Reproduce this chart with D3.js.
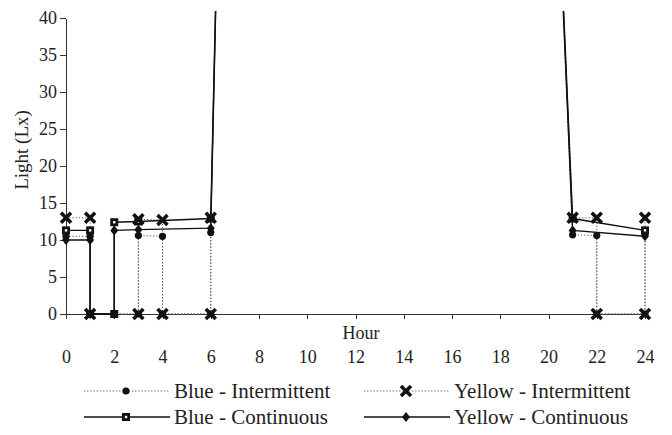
<!DOCTYPE html>
<head>
<meta charset="utf-8">
<script src="https://d3js.org/d3.v7.min.js"></script>
<style>
body { margin: 0; background: #fff; }
text { font-family: "Liberation Serif", "Times New Roman", serif; fill: #222; }
.axis text { font-size: 18px; }
.axis path, .axis line { stroke: #333; stroke-width: 1; shape-rendering: crispEdges; }
text.axisTitle { font-size: 18px; }
text.legendText { font-size: 21px; }
</style>
</head>
<body>
<script>
const width = 672, height = 435;

// [hour, lux] pairs
const blueIntermittent   = [[0,10.5],[1,10.5],[1,0],[3,0],[3,10.6],[4,10.5],[4,0],[6,0],[6,11.0],[7,156],[20,88],[21,10.7],[22,10.6],[22,0],[24,0],[24,10.8]];
const yellowIntermittent = [[0,13],[1,13],[1,0],[3,0],[3,12.8],[4,12.7],[4,0],[6,0],[6,13],[7,156],[20,88],[21,13],[22,13],[22,0],[24,0],[24,13]];
const blueContinuous     = [[0,11.3],[1,11.3],[1,0],[2,0],[2,12.4],[3,12.5],[6,12.9],[7,156],[20,88],[21,12.9],[24,11.3]];
const yellowContinuous   = [[0,10],[1,10],[1,0],[2,0],[2,11.3],[3,11.4],[6,11.6],[7,156],[20,88],[21,11.3],[24,10.5]];

const xTicks = d3.range(0, 25, 2);
const yTicks = d3.range(0, 41, 5);

const series = [
  {name: "Blue - Intermittent",   data: blueIntermittent,   dotted: true,  marker: "circle"},
  {name: "Yellow - Intermittent", data: yellowIntermittent, dotted: true,  marker: "x"},
  {name: "Blue - Continuous",     data: blueContinuous,     dotted: false, marker: "square"},
  {name: "Yellow - Continuous",   data: yellowContinuous,   dotted: false, marker: "diamond"}
];

const svg = d3.select("body").append("svg")
  .attr("width", width)
  .attr("height", height);

const x = d3.scaleLinear().domain([0, 24]).range([66, 645]);
const y = d3.scaleLinear().domain([0, 40]).range([314, 18]);

svg.append("defs").append("clipPath").attr("id", "plot")
  .append("rect").attr("x", 50).attr("y", 11).attr("width", 620).attr("height", 320);

// axes
svg.append("g")
  .attr("class", "axis")
  .attr("transform", `translate(0,${y(0)})`)
  .call(d3.axisBottom(x).tickValues(xTicks).tickSize(5).tickSizeOuter(0).tickPadding(31));

svg.append("g")
  .attr("class", "axis")
  .attr("transform", `translate(${x(0)},0)`)
  .call(d3.axisLeft(y).tickValues(yTicks).tickSize(6).tickSizeOuter(0).tickPadding(3));

svg.append("text")
  .attr("class", "axisTitle")
  .attr("x", 361).attr("y", 339)
  .attr("text-anchor", "middle")
  .text("Hour");

svg.append("text")
  .attr("class", "axisTitle")
  .attr("transform", "translate(28,150) rotate(-90)")
  .attr("text-anchor", "middle")
  .style("font-size", "19px")
  .text("Light (Lx)");

// markers
function drawMarker(g, type, cx, cy) {
  if (type === "circle") {
    g.append("circle").attr("cx", cx).attr("cy", cy).attr("r", 3.6).attr("fill", "#111");
  } else if (type === "x") {
    g.append("path")
      .attr("d", `M${cx-5},${cy-5}L${cx+5},${cy+5}M${cx+5},${cy-5}L${cx-5},${cy+5}`)
      .attr("stroke", "#111").attr("stroke-width", 3.6).attr("fill", "none");
  } else if (type === "square") {
    g.append("rect").attr("x", cx-4).attr("y", cy-4).attr("width", 8).attr("height", 8).attr("fill", "#111");
    g.append("rect").attr("x", cx-1.2).attr("y", cy-1.2).attr("width", 2.4).attr("height", 2.4).attr("fill", "#fff");
  } else if (type === "diamond") {
    g.append("path")
      .attr("d", `M${cx},${cy-5}L${cx+4},${cy}L${cx},${cy+5}L${cx-4},${cy}Z`)
      .attr("fill", "#111");
  }
}

const line = d3.line().x(d => x(d[0])).y(d => y(d[1]));
const plot = svg.append("g").attr("clip-path", "url(#plot)");

series.forEach(s => {
  plot.append("path")
    .datum(s.data)
    .attr("d", line)
    .attr("fill", "none")
    .attr("stroke", s.dotted ? "#555" : "#111")
    .attr("stroke-width", s.dotted ? 1 : 1.4)
    .attr("stroke-dasharray", s.dotted ? "1.2,2" : null);
});

// marker order: circles, squares, diamonds, then crosses on top
[0, 2, 3, 1].forEach(i => {
  const s = series[i];
  const g = plot.append("g");
  s.data.forEach(d => drawMarker(g, s.marker, x(d[0]), y(d[1])));
});

// legend
const legendCols = [84, 364];
const legendRows = [391, 417];
series.forEach((s, i) => {
  const lx = legendCols[i % 2], ly = legendRows[Math.floor(i / 2)];
  const g = svg.append("g");
  g.append("line")
    .attr("x1", lx).attr("x2", lx + 86).attr("y1", ly).attr("y2", ly)
    .attr("stroke", s.dotted ? "#555" : "#111")
    .attr("stroke-width", s.dotted ? 1 : 1.4)
    .attr("stroke-dasharray", s.dotted ? "1.2,2" : null);
  drawMarker(g, s.marker, lx + 42, ly);
  g.append("text")
    .attr("class", "legendText")
    .attr("x", lx + 90).attr("y", ly + 7)
    .text(s.name);
});
</script>
</body>
